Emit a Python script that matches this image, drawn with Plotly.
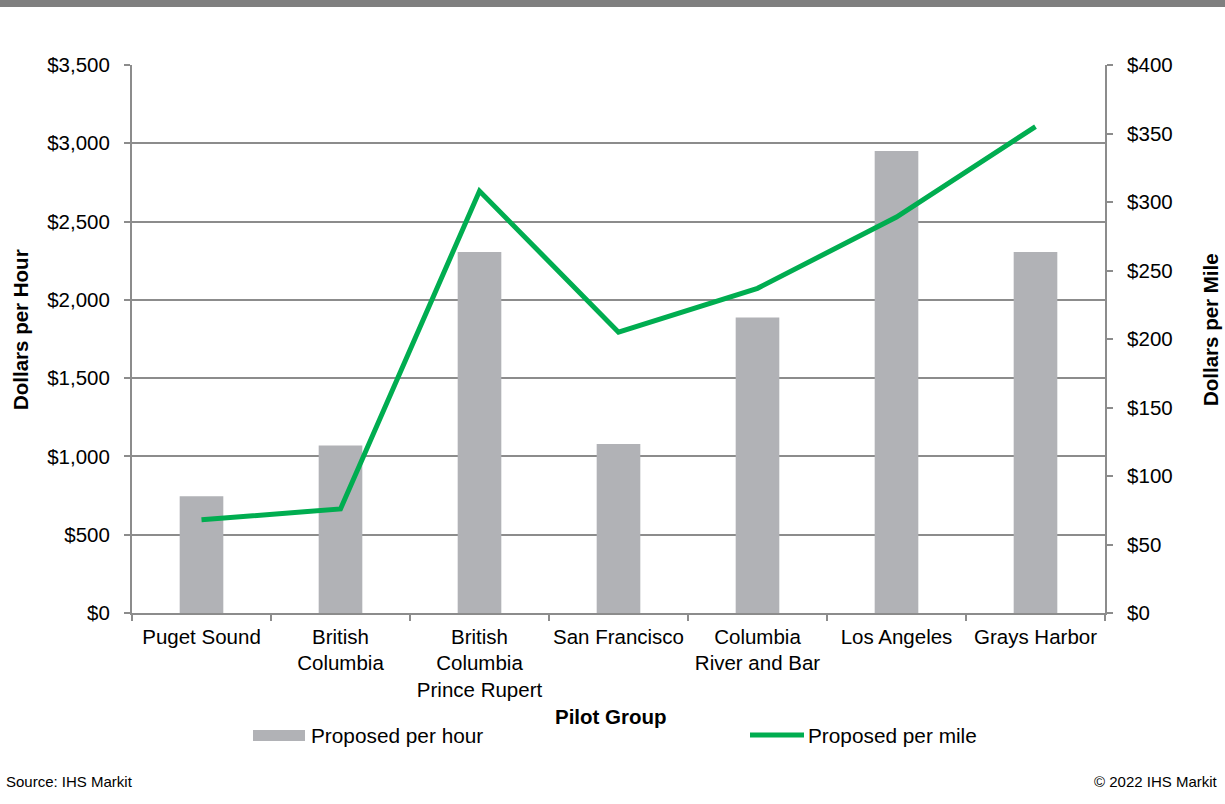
import plotly.graph_objects as go

# Pilot groups and proposed rates
categories = [
    "Puget Sound",
    "British<br>Columbia",
    "British<br>Columbia<br>Prince Rupert",
    "San Francisco",
    "Columbia<br>River and Bar",
    "Los Angeles",
    "Grays Harbor",
]
per_hour = [745, 1070, 2305, 1080, 1888, 2950, 2305]
per_mile = [68, 76, 308, 205, 237, 289, 355]

hour_ticks = [0, 500, 1000, 1500, 2000, 2500, 3000, 3500]
hour_labels = ["$0", "$500", "$1,000", "$1,500", "$2,000", "$2,500", "$3,000", "$3,500"]
mile_ticks = [0, 50, 100, 150, 200, 250, 300, 350, 400]
mile_labels = ["$0", "$50", "$100", "$150", "$200", "$250", "$300", "$350", "$400"]

W, H = 1225, 804
L, R, T, B = 132, 120, 65, 191
PW, PH = W - L - R, H - T - B

FONT = "Liberation Sans, Arial, sans-serif"
GRID = "#8c8c8c"
BAR = "#b1b2b6"
GREEN = "#00ad50"


def px(x):
    return (x - L) / PW


def py(y):
    return (H - B - y) / PH


fig = go.Figure()
fig.add_trace(go.Bar(
    x=categories, y=per_hour, name="Proposed per hour",
    marker=dict(color=BAR, line=dict(width=0)), yaxis="y",
))
fig.add_trace(go.Scatter(
    x=categories, y=per_mile, name="Proposed per mile", mode="lines",
    line=dict(color=GREEN, width=5), yaxis="y2",
))

axis_common = dict(
    showline=True, linecolor=GRID, linewidth=2,
    ticks="outside", ticklen=6, tickwidth=2, tickcolor=GRID,
    tickfont=dict(family=FONT, size=20.5, color="#000"),
)

fig.update_layout(
    width=W, height=H, autosize=False,
    margin=dict(l=L, r=R, t=T, b=B, pad=0),
    paper_bgcolor="white", plot_bgcolor="white",
    showlegend=False, bargap=0.686,
    xaxis=dict(
        type="category", tickson="boundaries", showgrid=False, tickangle=0,
        ticklabelstandoff=4, **axis_common,
    ),
    yaxis=dict(
        range=[0, 3500], tickmode="array", tickvals=hour_ticks, ticktext=hour_labels,
        showgrid=True, gridcolor=GRID, gridwidth=2, zeroline=False,
        ticklabelstandoff=10, **axis_common,
    ),
    yaxis2=dict(
        range=[0, 400], tickmode="array", tickvals=mile_ticks, ticktext=mile_labels,
        overlaying="y", side="right", showgrid=False, zeroline=False,
        ticklabelstandoff=10, **axis_common,
    ),
)

shapes = [
    # header band
    dict(type="rect", xref="paper", yref="paper",
         x0=px(0), x1=px(W), y0=py(7), y1=py(0),
         fillcolor="#7f7f7f", line=dict(width=0)),
    # legend swatches
    dict(type="rect", xref="paper", yref="paper",
         x0=px(253), x1=px(305), y0=py(741), y1=py(730),
         fillcolor=BAR, line=dict(width=0)),
    dict(type="line", xref="paper", yref="paper",
         x0=px(750), x1=px(804), y0=py(735), y1=py(735),
         line=dict(color=GREEN, width=5)),
]
fig.update_layout(shapes=shapes)

annos = [
    dict(text="<b>Pilot Group</b>", x=px(611), y=py(716), size=20.5),
    dict(text="<b>Dollars per Hour</b>", x=px(20), y=py(330), size=20.5, textangle=-90),
    dict(text="<b>Dollars per Mile</b>", x=px(1210), y=py(330), size=20.5, textangle=-90),
    dict(text="Proposed per hour", x=px(309), y=py(735), size=20.8, xanchor="left"),
    dict(text="Proposed per mile", x=px(806), y=py(735), size=20.8, xanchor="left"),
    dict(text="Source: IHS Markit", x=px(4), y=py(781), size=15, xanchor="left"),
    dict(text="© 2022 IHS Markit", x=px(1220), y=py(781), size=15, xanchor="right"),
]
for a in annos:
    fig.add_annotation(
        text=a["text"], xref="paper", yref="paper", x=a["x"], y=a["y"],
        xanchor=a.get("xanchor", "center"), yanchor="middle",
        textangle=a.get("textangle", 0), showarrow=False,
        font=dict(family=FONT, size=a["size"], color="#000"),
    )

fig.write_html("out.html")
